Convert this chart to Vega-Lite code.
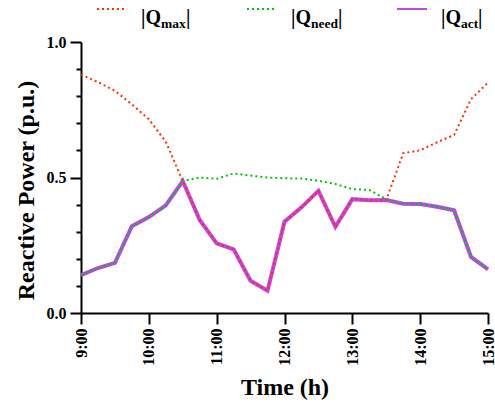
{
  "$schema": "https://vega.github.io/schema/vega-lite/v6.json",
  "padding": {"left": 14, "top": 3, "right": 5, "bottom": 0},
  "bounds": "flush",
  "spacing": 27,
  "config": {
    "view": {"stroke": null},
    "font": "Liberation Serif",
    "text": {"font": "Liberation Serif", "fontWeight": "bold", "color": "black"}
  },
  "datasets": {
    "legend": [
      {"series": "Qmax", "sub": "max"},
      {"series": "Qneed", "sub": "need"},
      {"series": "Qact", "sub": "act"}
    ],
    "q": [
      {"hour": 9.00, "Qmax": 0.880, "Qneed": 0.140, "Qact": 0.140},
      {"hour": 9.25, "Qmax": 0.852, "Qneed": 0.166, "Qact": 0.166},
      {"hour": 9.50, "Qmax": 0.820, "Qneed": 0.185, "Qact": 0.185},
      {"hour": 9.75, "Qmax": 0.770, "Qneed": 0.320, "Qact": 0.320},
      {"hour": 10.00, "Qmax": 0.715, "Qneed": 0.354, "Qact": 0.354},
      {"hour": 10.25, "Qmax": 0.632, "Qneed": 0.397, "Qact": 0.397},
      {"hour": 10.50, "Qmax": 0.487, "Qneed": 0.487, "Qact": 0.487},
      {"hour": 10.75, "Qmax": 0.343, "Qneed": 0.500, "Qact": 0.343},
      {"hour": 11.00, "Qmax": 0.257, "Qneed": 0.495, "Qact": 0.257},
      {"hour": 11.25, "Qmax": 0.235, "Qneed": 0.515, "Qact": 0.235},
      {"hour": 11.50, "Qmax": 0.119, "Qneed": 0.507, "Qact": 0.119},
      {"hour": 11.75, "Qmax": 0.082, "Qneed": 0.500, "Qact": 0.082},
      {"hour": 12.00, "Qmax": 0.337, "Qneed": 0.497, "Qact": 0.337},
      {"hour": 12.25, "Qmax": 0.390, "Qneed": 0.496, "Qact": 0.390},
      {"hour": 12.50, "Qmax": 0.451, "Qneed": 0.488, "Qact": 0.451},
      {"hour": 12.75, "Qmax": 0.318, "Qneed": 0.476, "Qact": 0.318},
      {"hour": 13.00, "Qmax": 0.420, "Qneed": 0.457, "Qact": 0.420},
      {"hour": 13.25, "Qmax": 0.416, "Qneed": 0.454, "Qact": 0.416},
      {"hour": 13.50, "Qmax": 0.417, "Qneed": 0.420, "Qact": 0.417},
      {"hour": 13.75, "Qmax": 0.590, "Qneed": 0.403, "Qact": 0.403},
      {"hour": 14.00, "Qmax": 0.600, "Qneed": 0.402, "Qact": 0.402},
      {"hour": 14.25, "Qmax": 0.630, "Qneed": 0.392, "Qact": 0.392},
      {"hour": 14.50, "Qmax": 0.657, "Qneed": 0.379, "Qact": 0.379},
      {"hour": 14.75, "Qmax": 0.789, "Qneed": 0.207, "Qact": 0.207},
      {"hour": 15.00, "Qmax": 0.850, "Qneed": 0.161, "Qact": 0.161}
    ]
  },
  "vconcat": [
    {
      "width": 362,
      "height": 12,
      "data": {"name": "legend"},
      "encoding": {
        "x": {
          "field": "series",
          "type": "nominal",
          "sort": null,
          "scale": {"type": "point", "padding": 0.2067},
          "axis": null
        }
      },
      "layer": [
        {
          "mark": {"type": "point", "shape": "stroke", "size": 900, "filled": false, "opacity": 1},
          "encoding": {
            "stroke": {
              "field": "series",
              "type": "nominal",
              "scale": {"domain": ["Qmax", "Qneed", "Qact"], "range": ["#ff3000", "#00c800", "#bf45ee"]},
              "legend": null
            },
            "strokeDash": {
              "field": "series",
              "type": "nominal",
              "scale": {"domain": ["Qmax", "Qneed", "Qact"], "range": [[2, 3], [2, 3], [1, 0]]},
              "legend": null
            },
            "strokeWidth": {
              "field": "series",
              "type": "nominal",
              "scale": {"domain": ["Qmax", "Qneed", "Qact"], "range": [2, 2, 3.5]},
              "legend": null
            }
          }
        },
        {
          "mark": {"type": "text", "text": "|Q", "align": "left", "baseline": "alphabetic", "dx": 29, "dy": 15, "fontSize": 20}
        },
        {
          "mark": {"type": "text", "align": "left", "baseline": "alphabetic", "dx": 49, "dy": 19, "fontSize": 13.5},
          "encoding": {"text": {"field": "sub"}}
        },
        {
          "transform": [{"filter": "datum.series === 'Qmax'"}],
          "mark": {"type": "text", "text": "|", "align": "left", "baseline": "alphabetic", "dx": 74, "dy": 15, "fontSize": 20}
        },
        {
          "transform": [{"filter": "datum.series === 'Qneed'"}],
          "mark": {"type": "text", "text": "|", "align": "left", "baseline": "alphabetic", "dx": 76, "dy": 15, "fontSize": 20}
        },
        {
          "transform": [{"filter": "datum.series === 'Qact'"}],
          "mark": {"type": "text", "text": "|", "align": "left", "baseline": "alphabetic", "dx": 66, "dy": 15, "fontSize": 20}
        }
      ]
    },
    {
      "width": 407,
      "height": 271,
      "data": {"name": "q"},
      "resolve": {"axis": {"y": "independent"}},
      "encoding": {
        "x": {
          "field": "hour",
          "type": "quantitative",
          "title": "Time (h)",
          "scale": {"domain": [9, 15], "nice": false, "zero": false},
          "axis": {
            "values": [9, 10, 11, 12, 13, 14, 15],
            "labelExpr": "datum.value + ':00'",
            "labelAngle": -90,
            "labelFont": "Liberation Serif",
            "labelFontSize": 16,
            "labelFontWeight": "bold",
            "labelColor": "black",
            "labelPadding": 4,
            "labelOverlap": false,
            "tickSize": 11,
            "tickWidth": 2,
            "tickColor": "black",
            "domainColor": "black",
            "domainWidth": 2,
            "grid": false,
            "titleFont": "Liberation Serif",
            "titleFontSize": 24,
            "titleFontWeight": "bold",
            "titleColor": "black",
            "titlePadding": 10
          }
        }
      },
      "layer": [
        {
          "mark": {"type": "line", "stroke": "#bf45ee", "strokeWidth": 4},
          "encoding": {
            "y": {
              "field": "Qact",
              "type": "quantitative",
              "title": "Reactive Power (p.u.)",
              "scale": {"domain": [0, 1], "nice": false},
              "axis": {
                "values": [0, 0.5, 1],
                "format": ".1f",
                "tickSize": 11,
                "labelFont": "Liberation Serif",
                "labelFontSize": 16,
                "labelFontWeight": "bold",
                "labelColor": "black",
                "labelPadding": 4,
                "labelOverlap": false,
                "tickWidth": 2,
                "tickColor": "black",
                "domainColor": "black",
                "domainWidth": 2,
                "grid": false,
                "titleFont": "Liberation Serif",
                "titleFontSize": 24,
                "titleFontWeight": "bold",
                "titleColor": "black",
                "titlePadding": 8,
                "titleY": 148
              }
            }
          }
        },
        {
          "mark": {"type": "line", "stroke": "#00c800", "strokeWidth": 2, "strokeDash": [2, 3]},
          "encoding": {
            "y": {
              "field": "Qneed",
              "type": "quantitative",
              "title": null,
              "axis": {
                "orient": "left",
                "values": [0.1, 0.2, 0.3, 0.4, 0.6, 0.7, 0.8, 0.9],
                "labels": false,
                "domain": false,
                "grid": false,
                "tickSize": 5,
                "tickWidth": 2,
                "tickColor": "black"
              }
            }
          }
        },
        {
          "mark": {"type": "line", "stroke": "#ff3000", "strokeWidth": 2, "strokeDash": [2, 3]},
          "encoding": {"y": {"field": "Qmax", "type": "quantitative", "title": null, "axis": null}}
        }
      ]
    }
  ]
}
